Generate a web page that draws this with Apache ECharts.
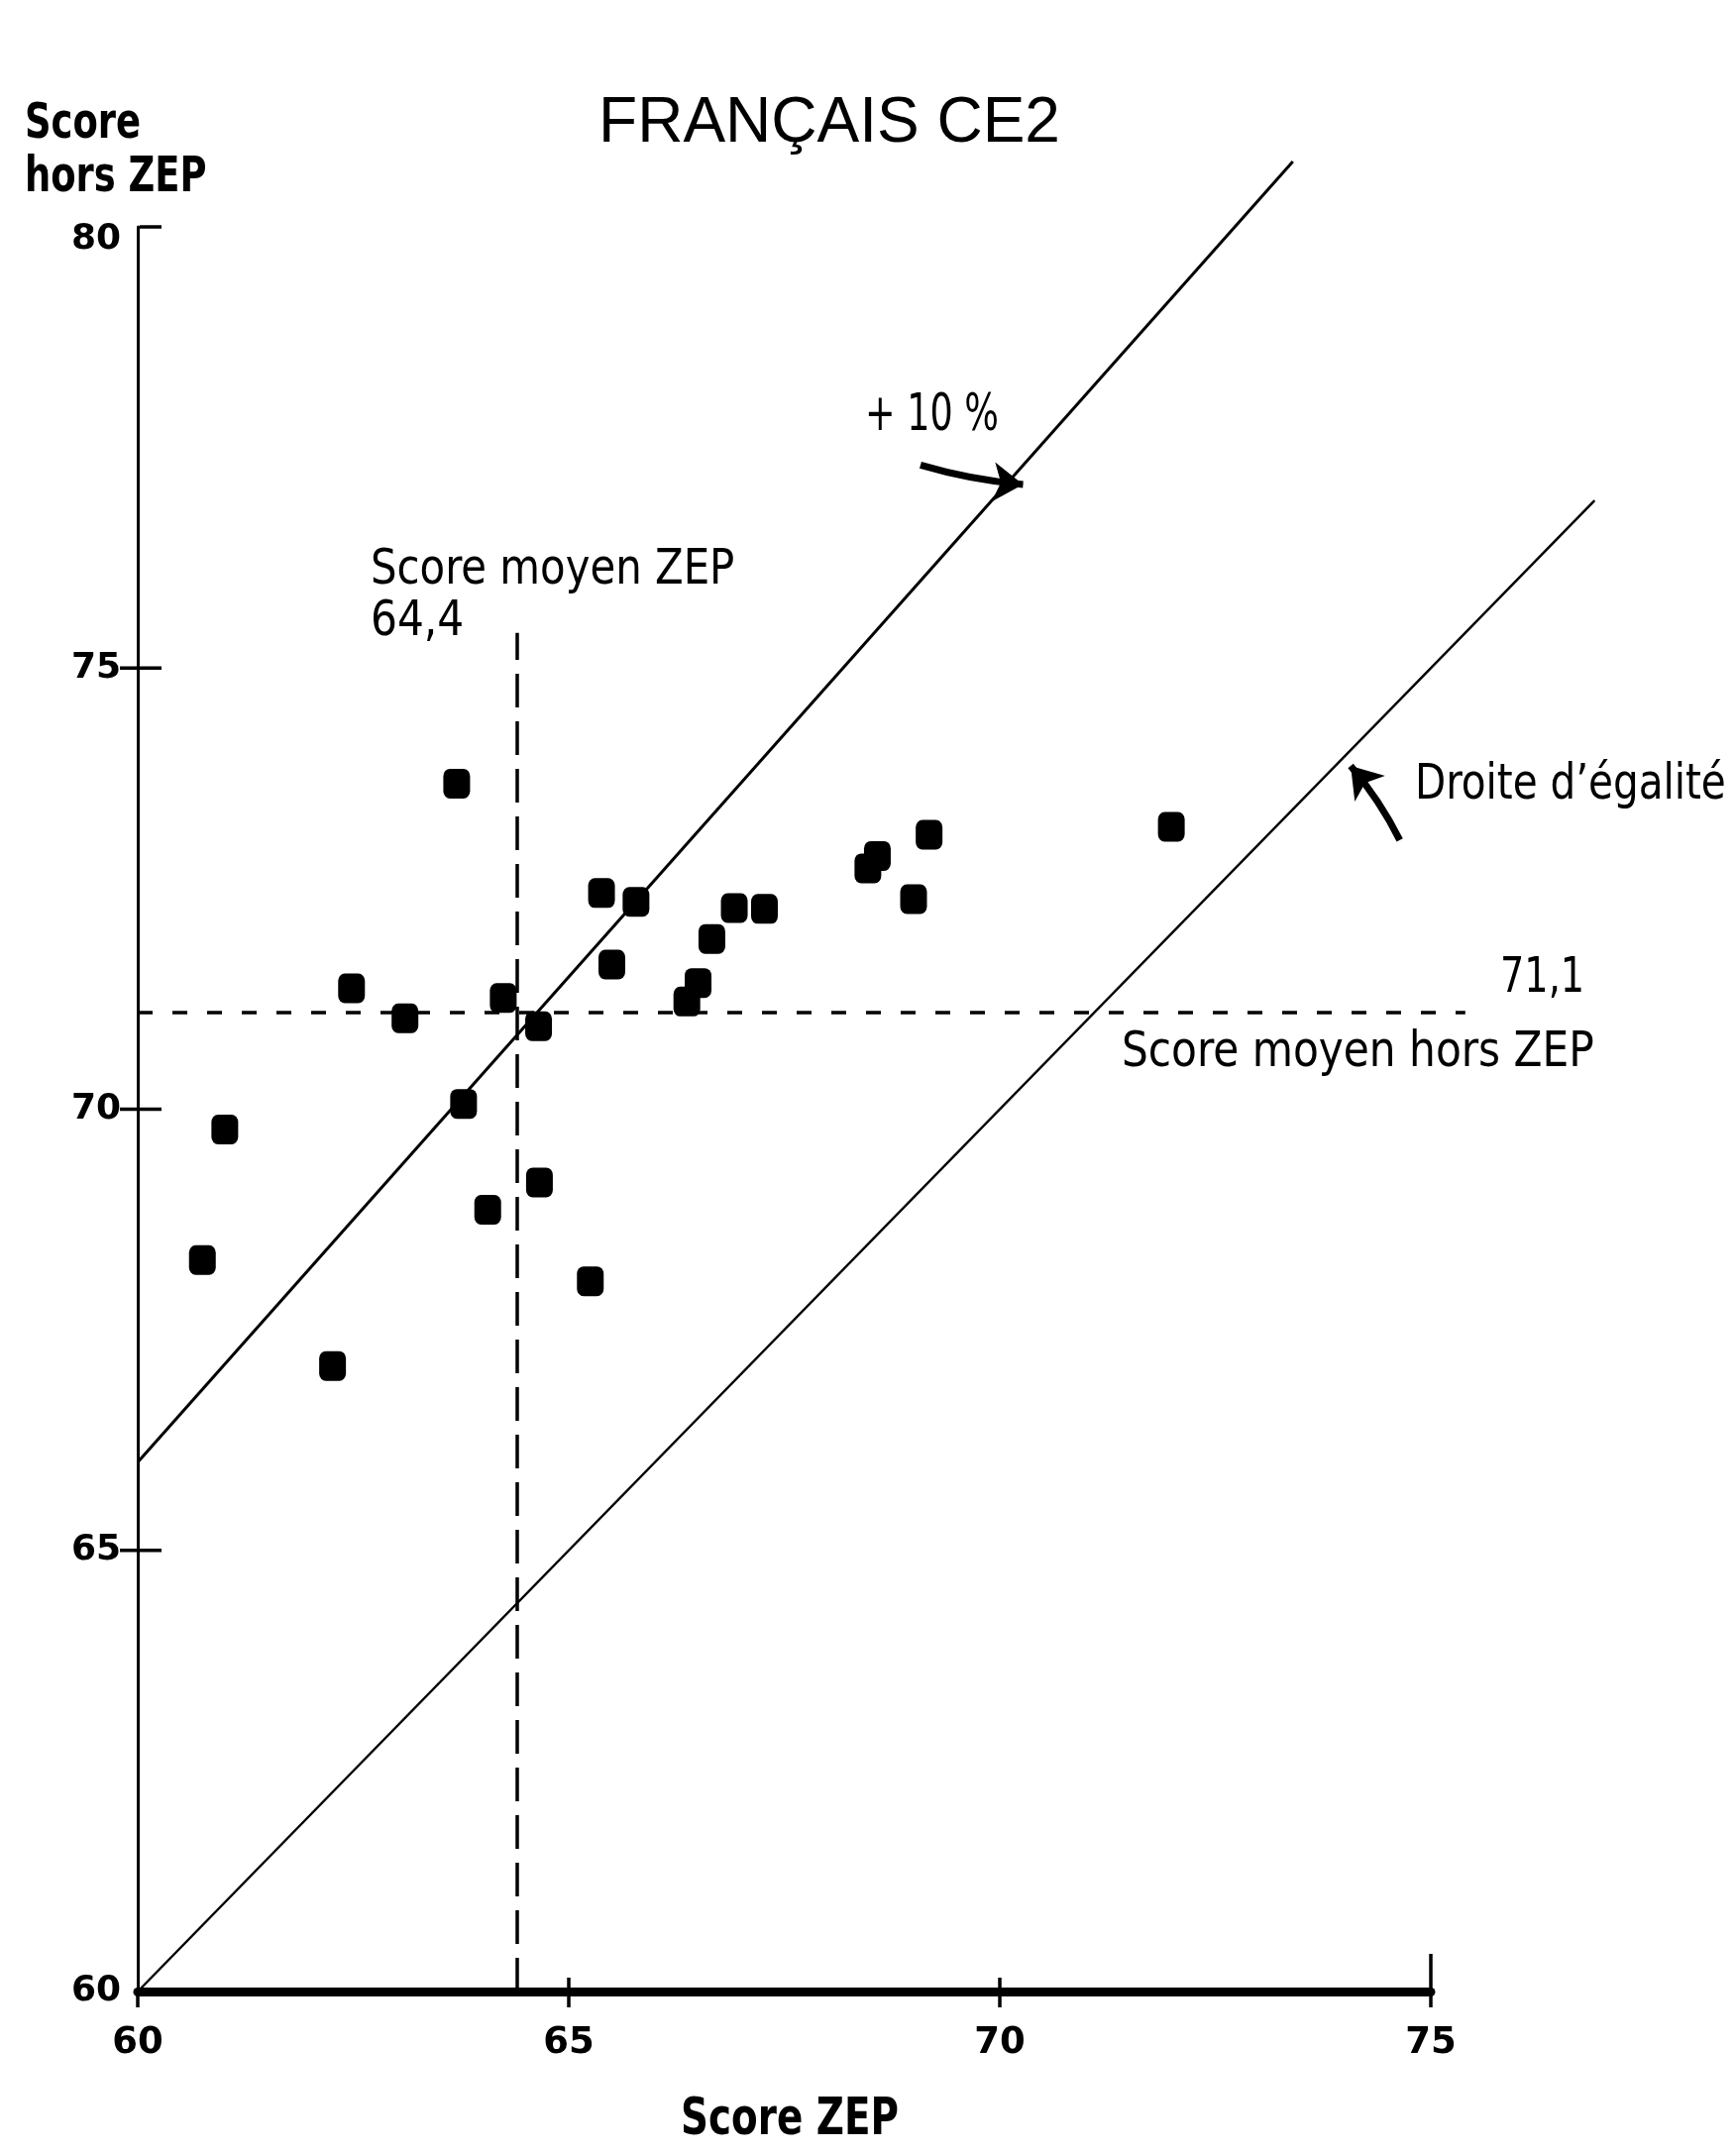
<!DOCTYPE html>
<html>
<head>
<meta charset="utf-8">
<script src="https://cdn.jsdelivr.net/npm/echarts@6/dist/echarts.min.js"></script>
<style>
  html, body { margin: 0; padding: 0; background: #fff; }
  #chart { width: 1752px; height: 2174px; }
</style>
</head>
<body>
<div id="chart"></div>
<script>
// Une école par point : [score ZEP, score hors ZEP]
const schools = [
  [63.70, 73.69], [62.48, 71.37], [63.10, 71.03], [64.24, 71.26], [64.65, 70.94],
  [63.78, 70.06], [61.01, 69.77], [60.75, 68.29], [62.26, 67.09], [64.06, 68.86],
  [64.66, 69.17], [65.25, 68.05], [65.38, 72.45], [65.78, 72.35], [65.50, 71.64],
  [66.37, 71.22], [66.50, 71.43], [66.66, 71.93], [66.92, 72.28], [67.27, 72.27],
  [68.47, 72.73], [68.58, 72.87], [69.18, 73.11], [69.00, 72.38], [71.99, 73.20]
];

const xTicks = [60, 65, 70, 75];
const yTicks = [65, 70, 75, 80];

const meanZep = 64.4;
const meanHorsZep = 71.1;

// Droites de référence
const equalityLine = [[60, 60], [76.9, 76.9]];
const plusTenLine = [[60, 66], [73.4, 80.74]];
const meanZepLine = [[meanZep, 60], [meanZep, 75.4]];
const meanHorsZepLine = [[60, meanHorsZep], [75.4, meanHorsZep]];

// Flèches d'annotation
const arrowPlusTen = [[69.08, 77.30], [70.27, 77.08]];
const arrowEgalite = [[74.64, 73.05], [74.07, 73.89]];

const NARROW = "'Liberation Sans Narrow', 'DejaVu Sans Condensed', 'Liberation Sans', sans-serif";
const REGULAR = "'Liberation Sans', Arial, sans-serif";
const WIDE = "'DejaVu Sans', Verdana, sans-serif";

const chart = echarts.init(document.getElementById('chart'), null, { renderer: 'canvas' });

function tickItem(params, api) {
  const p = api.coord([api.value(0), api.value(1)]);
  const kind = api.value(2);
  let shape;
  if (kind === 0) {
    // graduation sur l'axe des scores ZEP
    const v = api.value(0);
    const up = v === 75 ? 38 : (v === 60 ? 0 : 14);
    shape = { x1: p[0], y1: p[1] - up, x2: p[0], y2: p[1] + 16 };
  } else {
    const v = api.value(1);
    const left = v === 80 ? -2 : 18;
    shape = { x1: p[0] - left, y1: p[1], x2: p[0] + 24, y2: p[1] };
  }
  return { type: 'line', shape: shape, style: { stroke: '#000', lineWidth: 3.5 } };
}

const tickData = xTicks.map(v => [v, 60, 0]).concat(yTicks.map(v => [60, v, 1]));

function note(text, x, y, size, sx, weight, align) {
  return {
    type: 'text', x: x, y: y, scaleX: sx, z: 10,
    style: {
      text: text, fontFamily: NARROW, fontSize: size, fontWeight: weight || 'normal',
      fill: '#000', align: align || 'left', verticalAlign: 'middle'
    }
  };
}

function refLine(coords, width, dash) {
  return { coords: coords, lineStyle: { width: width, type: dash || 'solid' } };
}

const tickFont = { fontFamily: WIDE, fontWeight: 'bold', fontSize: 36, color: '#000' };

chart.setOption({
  backgroundColor: '#fff',
  animation: false,
  title: {
    text: 'FRANÇAIS CE2',
    left: 832,
    top: 88,
    textAlign: 'center',
    textStyle: { fontFamily: REGULAR, fontWeight: 'normal', fontSize: 64, color: '#000' }
  },
  grid: { left: 139, right: 308, top: 229, bottom: 164, containLabel: false },
  xAxis: {
    type: 'value', min: 60, max: 75, interval: 5,
    axisLine: { show: true, lineStyle: { color: '#000', width: 9 } },
    axisTick: { show: false },
    splitLine: { show: false },
    axisLabel: Object.assign({ margin: 34 }, tickFont, { fontSize: 37 })
  },
  yAxis: {
    type: 'value', min: 60, max: 80, interval: 5,
    axisLine: { show: true, lineStyle: { color: '#000', width: 3 } },
    axisTick: { show: false },
    splitLine: { show: false },
    axisLabel: Object.assign({
      margin: 17,
      formatter: v => (v === 80 ? '{top|' + v + '}' : String(v)),
      rich: { top: Object.assign({ padding: [26, 0, 0, 0] }, tickFont) }
    }, tickFont)
  },
  graphic: [
    note('Score', 25, 126, 50, 0.82, 'bold'),
    note('hors ZEP', 25, 180, 50, 0.82, 'bold'),
    note('Score ZEP', 797, 2140, 52, 0.83, 'bold', 'center'),
    note('Score moyen ZEP', 374, 576, 50, 0.93),
    note('64,4', 374, 628, 50, 0.94),
    note('+ 10 %', 873, 420, 52, 0.78),
    note('Droite d’égalité', 1428, 793, 50, 0.9),
    note('71,1', 1514, 988, 50, 0.85),
    note('Score moyen hors ZEP', 1132, 1063, 50, 0.94)
  ],
  series: [
    {
      name: 'Droites de référence', type: 'lines', coordinateSystem: 'cartesian2d',
      clip: false, silent: true, z: 2, symbol: 'none',
      lineStyle: { color: '#000', opacity: 1, curveness: 0 },
      data: [
        refLine(equalityLine, 2.5),
        refLine(plusTenLine, 3),
        refLine(meanZepLine, 3.5, [34, 14]),
        refLine(meanHorsZepLine, 3.5, [15, 20])
      ]
    },
    {
      name: 'Flèches', type: 'lines', coordinateSystem: 'cartesian2d', clip: false,
      silent: true, z: 3,
      symbol: ['none', 'arrow'], symbolSize: 30,
      lineStyle: { color: '#000', width: 7, opacity: 1 },
      data: [
        { coords: arrowPlusTen, lineStyle: { curveness: -0.05 } },
        { coords: arrowEgalite, lineStyle: { curveness: -0.06 } }
      ]
    },
    {
      name: 'Graduations', type: 'custom', renderItem: tickItem, data: tickData,
      silent: true, z: 4
    },
    {
      name: 'Écoles', type: 'scatter', data: schools,
      symbol: 'roundRect', symbolSize: [27, 30], z: 5,
      itemStyle: { color: '#000', opacity: 1 }
    }
  ]
});
</script>
</body>
</html>
